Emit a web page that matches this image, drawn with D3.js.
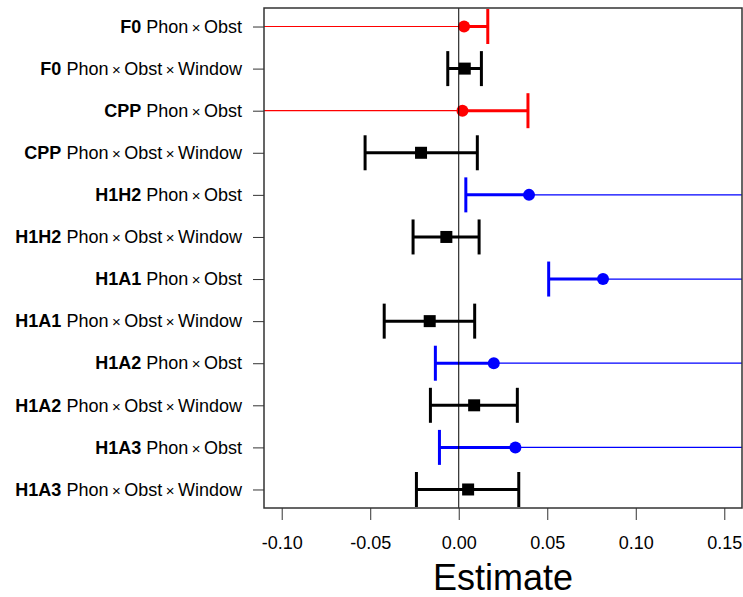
<!DOCTYPE html>
<html lang="en">
<meta charset="utf-8">
<head>
    <script src="https://d3js.org/d3.v7.min.js"></script>
    <style>
        body { margin: 0; background: #fff; }
        text { font-family: "Liberation Sans", Arial, Helvetica, sans-serif; }
    </style>
</head>
<body>
<script>
    // one row per model term, top to bottom
    var measures = ["F0", "F0", "CPP", "CPP", "H1H2", "H1H2", "H1A1", "H1A1", "H1A2", "H1A2", "H1A3", "H1A3"];
    var terms = [
        ["Phon", "Obst"], ["Phon", "Obst", "Window"],
        ["Phon", "Obst"], ["Phon", "Obst", "Window"],
        ["Phon", "Obst"], ["Phon", "Obst", "Window"],
        ["Phon", "Obst"], ["Phon", "Obst", "Window"],
        ["Phon", "Obst"], ["Phon", "Obst", "Window"],
        ["Phon", "Obst"], ["Phon", "Obst", "Window"]
    ];
    var estimates = [0.0030, 0.0034, 0.0021, -0.0213, 0.0397, -0.0070, 0.0815, -0.0164, 0.0198, 0.0087, 0.0320, 0.0053];
    // one-sided intervals run off the plot (Infinity)
    var lower = [-Infinity, -0.0062, -Infinity, -0.0529, 0.0040, -0.0258, 0.0508, -0.0421, -0.0132, -0.0160, -0.0109, -0.0239];
    var upper = [0.0164, 0.0128, 0.0391, 0.0105, Infinity, 0.0115, Infinity, 0.0090, Infinity, 0.0331, Infinity, 0.0339];
    var colors = ["red", "black", "red", "black", "blue", "black", "blue", "black", "blue", "black", "blue", "black"];
    var xTicks = [-0.10, -0.05, 0.00, 0.05, 0.10, 0.15];

    var W = 743, H = 597;
    var pLeft = 264, pRight = 742, pTop = 8, pBottom = 508;

    var svg = d3.select("body").append("svg")
        .attr("width", W)
        .attr("height", H);

    var x = d3.scaleLinear().domain([-0.11, 0.16]).range([pLeft, pRight]);
    var y = d3.scaleLinear().domain([0.56, 12.44]).range([pTop, pBottom]);

    var rows = d3.range(12).map(function(i) {
        return {
            row: i + 1, measure: measures[i], term: terms[i], est: estimates[i],
            lo: lower[i], hi: upper[i], color: colors[i]
        };
    });

    svg.append("clipPath").attr("id", "clip")
        .append("rect")
        .attr("x", pLeft).attr("y", pTop)
        .attr("width", pRight - pLeft).attr("height", pBottom - pTop);

    var plot = svg.append("g").attr("clip-path", "url(#clip)");

    function clampX(v) {
        if (v === Infinity) return pRight + 5;
        if (v === -Infinity) return pLeft - 5;
        return x(v);
    }

    var g = plot.selectAll(".row")
        .data(rows)
        .enter()
        .append("g");

    // thin line for the open side of one-sided intervals
    g.filter(function(d) { return !isFinite(d.lo) || !isFinite(d.hi); })
        .append("line")
        .attr("x1", function(d) { return isFinite(d.lo) ? x(d.est) : clampX(d.lo); })
        .attr("x2", function(d) { return isFinite(d.hi) ? x(d.est) : clampX(d.hi); })
        .attr("y1", function(d) { return y(d.row); })
        .attr("y2", function(d) { return y(d.row); })
        .attr("stroke", function(d) { return d.color; })
        .attr("stroke-width", 1.2);

    // thick segment between finite ends
    g.append("line")
        .attr("x1", function(d) { return isFinite(d.lo) ? x(d.lo) : x(d.est); })
        .attr("x2", function(d) { return isFinite(d.hi) ? x(d.hi) : x(d.est); })
        .attr("y1", function(d) { return y(d.row); })
        .attr("y2", function(d) { return y(d.row); })
        .attr("stroke", function(d) { return d.color; })
        .attr("stroke-width", 3);

    // caps
    g.each(function(d) {
        var sel = d3.select(this);
        [d.lo, d.hi].forEach(function(v) {
            if (!isFinite(v)) return;
            sel.append("line")
                .attr("x1", x(v)).attr("x2", x(v))
                .attr("y1", y(d.row) - 17.5).attr("y2", y(d.row) + 17.5)
                .attr("stroke", d.color)
                .attr("stroke-width", 3);
        });
    });

    // zero line
    plot.append("line")
        .attr("x1", x(0)).attr("x2", x(0))
        .attr("y1", pTop).attr("y2", pBottom)
        .attr("stroke", "black")
        .attr("stroke-width", 1);

    // markers
    g.filter(function(d) { return d.color !== "black"; })
        .append("circle")
        .attr("cx", function(d) { return x(d.est); })
        .attr("cy", function(d) { return y(d.row); })
        .attr("r", 6)
        .attr("fill", function(d) { return d.color; });

    g.filter(function(d) { return d.color === "black"; })
        .append("rect")
        .attr("x", function(d) { return x(d.est) - 6; })
        .attr("y", function(d) { return y(d.row) - 6; })
        .attr("width", 12)
        .attr("height", 12)
        .attr("fill", "black");

    // box
    svg.append("rect")
        .attr("x", pLeft).attr("y", pTop)
        .attr("width", pRight - pLeft).attr("height", pBottom - pTop)
        .attr("fill", "none")
        .attr("stroke", "#333")
        .attr("stroke-width", 1.5);

    // x axis
    var xaxis = svg.append("g")
        .attr("transform", "translate(0," + pBottom + ")")
        .call(d3.axisBottom(x)
            .tickValues(xTicks)
            .tickSize(12)
            .tickPadding(16)
            .tickFormat(function(d) { return d.toFixed(2); }));
    xaxis.select(".domain").remove();
    xaxis.selectAll(".tick line").attr("stroke", "#333");
    xaxis.selectAll("text")
        .attr("font-size", 18)
        .attr("font-family", "Liberation Sans, Arial, sans-serif")
        .attr("fill", "black");

    svg.append("text")
        .attr("x", (pLeft + pRight) / 2)
        .attr("y", 590)
        .attr("text-anchor", "middle")
        .attr("font-size", 36)
        .text("Estimate");

    // y axis
    var yaxis = svg.append("g")
        .attr("transform", "translate(" + pLeft + ",0)")
        .call(d3.axisLeft(y)
            .tickValues(d3.range(1, 13))
            .tickSize(11)
            .tickPadding(11)
            .tickFormat(""));
    yaxis.select(".domain").remove();
    yaxis.selectAll(".tick line").attr("stroke", "#333");

    yaxis.selectAll(".tick text")
        .attr("font-size", 18)
        .attr("font-family", "Liberation Sans, Arial, sans-serif")
        .attr("fill", "black")
        .each(function(v) {
            var t = d3.select(this);
            var d = rows[v - 1];
            t.append("tspan").attr("font-weight", "bold").text(d.measure);
            d.term.forEach(function(part, k) {
                if (k === 0) {
                    t.append("tspan").text(" " + part);
                } else {
                    t.append("tspan").attr("dx", 3.5).attr("font-size", 15).text("\u00d7");
                    t.append("tspan").attr("dx", 3.5).text(part);
                }
            });
        });
</script>
</body>
</html>
